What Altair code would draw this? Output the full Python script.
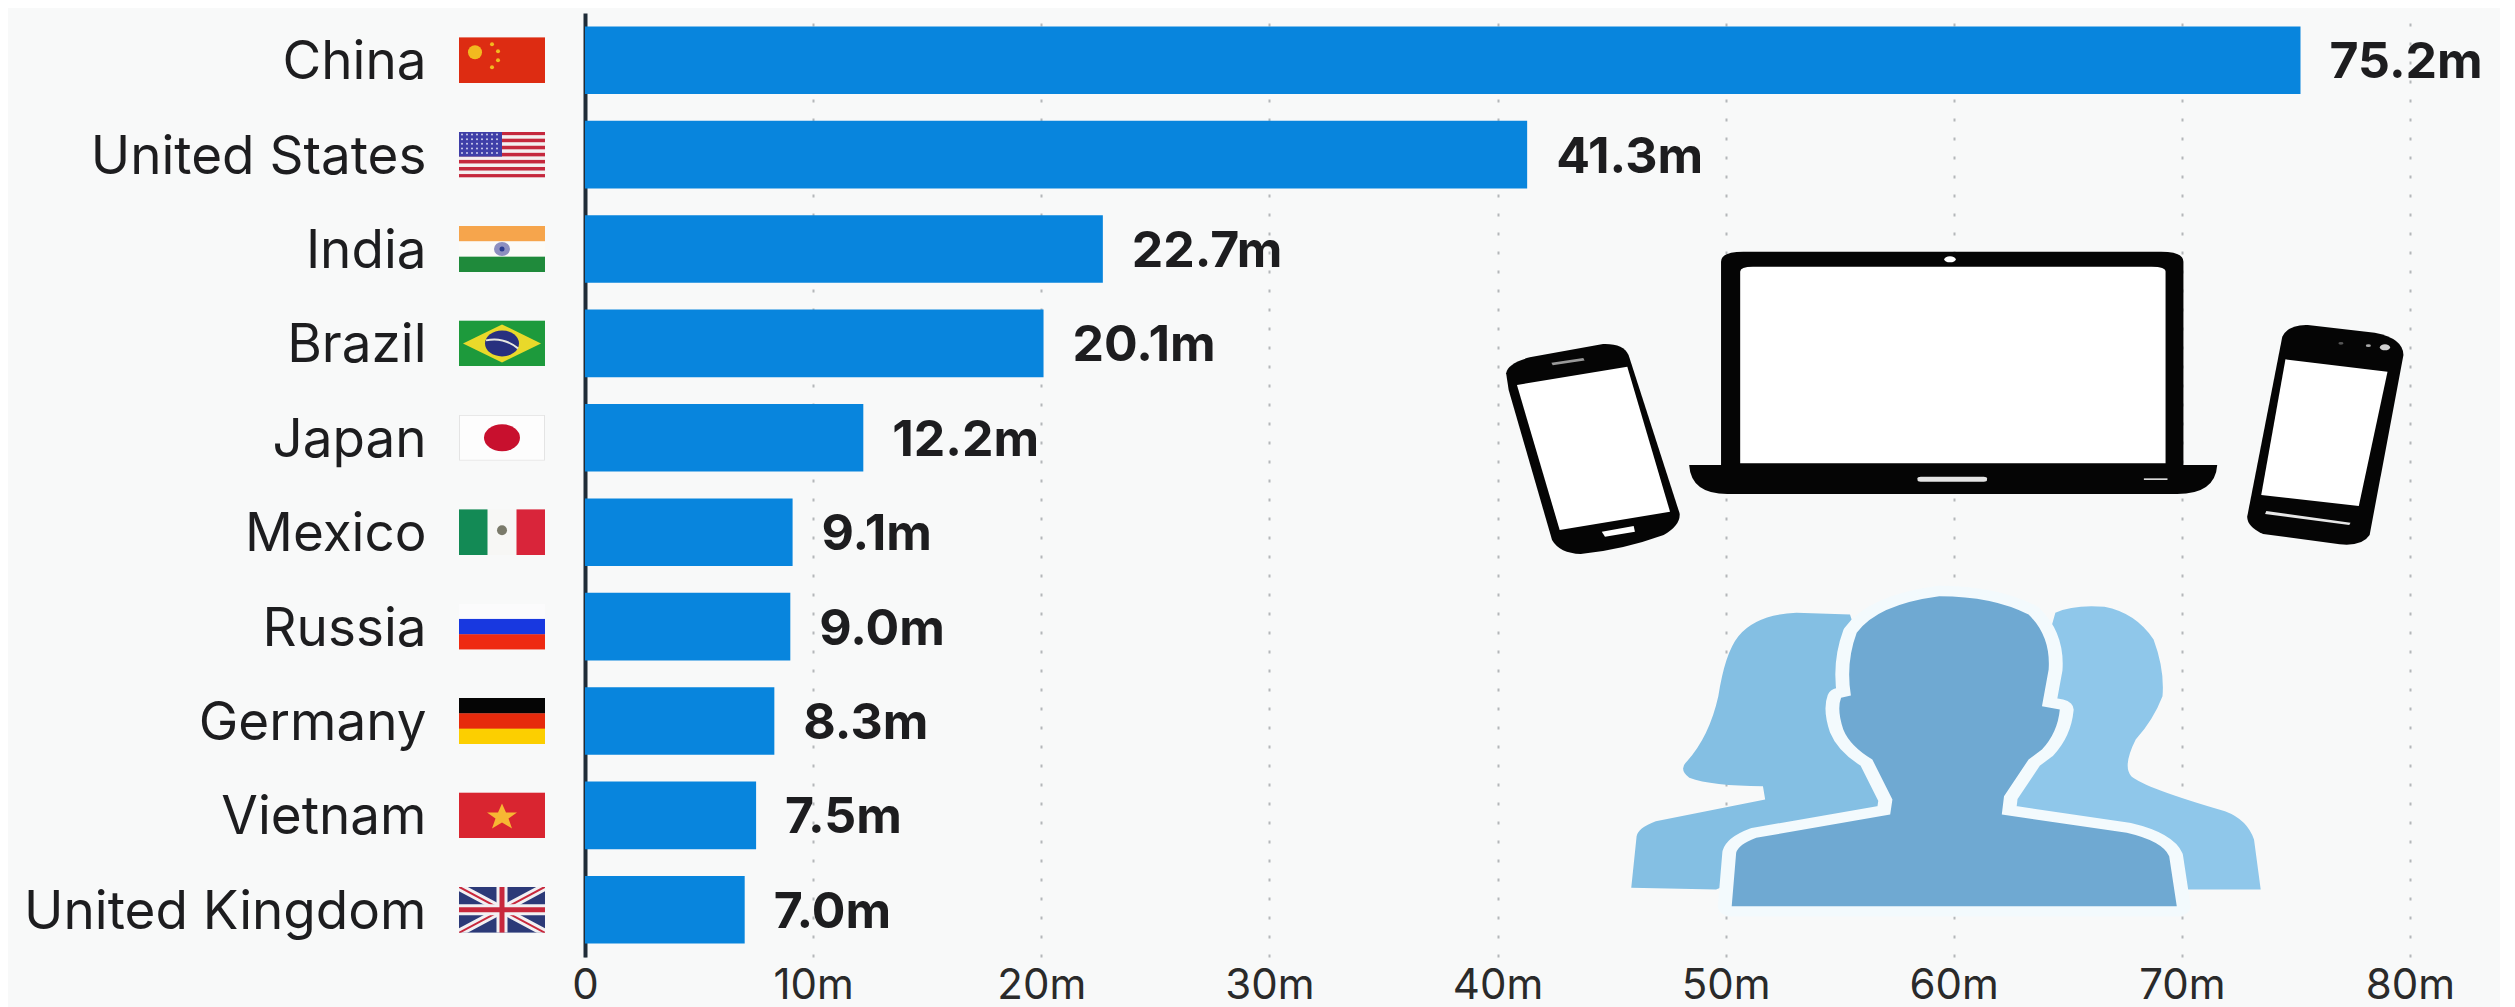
import base64
import altair as alt
import pandas as pd

countries = ["China", "United States", "India", "Brazil", "Japan", "Mexico", "Russia", "Germany", "Vietnam", "United Kingdom"]
users = [75.2, 41.3, 22.7, 20.1, 12.2, 9.1, 9.0, 8.3, 7.5, 7.0]
value_labels = ["75.2m", "41.3m", "22.7m", "20.1m", "12.2m", "9.1m", "9.0m", "8.3m", "7.5m", "7.0m"]
x_ticks = [0, 10, 20, 30, 40, 50, 60, 70, 80]

BG = "#f8f9f9"
BAR = "#0885dd"
INK = "#1d1d1f"
FONT = "Inter"


def uri(body, w, h):
    svg = (f'<svg xmlns="http://www.w3.org/2000/svg" width="{w}" height="{h}" '
           f'viewBox="0 0 {w} {h}" preserveAspectRatio="none">{body}</svg>')
    return "data:image/svg+xml;base64," + base64.b64encode(svg.encode()).decode()


def bands(*cols):
    n = len(cols)
    return "".join(f'<rect y="{i*46/n}" width="86" height="{46/n+.3}" fill="{c}"/>' for i, c in enumerate(cols))


us = '<rect width="86" height="46" fill="#f4f0f0"/>' + "".join(
    f'<rect y="{i*46/13}" width="86" height="{46/13}" fill="#c5283d"/>' for i in range(0, 13, 2)
) + '<rect width="43" height="25" fill="#3f3fa8"/>'
stars_us = "".join(f'<circle cx="{3+x*5}" cy="{3+y*4.6}" r="1" fill="#cfd0ee"/>' for x in range(8) for y in range(5))

flags = {
    "China": '<rect width="86" height="46" fill="#dd2c12"/><circle cx="16" cy="15" r="7" fill="#f2b91f"/>'
             '<circle cx="33" cy="7" r="2" fill="#f2b91f"/><circle cx="39" cy="14" r="2" fill="#f2b91f"/>'
             '<circle cx="39" cy="23" r="2" fill="#f2b91f"/><circle cx="33" cy="30" r="2" fill="#f2b91f"/>',
    "United States": us + stars_us,
    "India": bands("#f6a54c", "#fbfbf8", "#1f8a3b") + '<ellipse cx="43" cy="23" rx="8" ry="7" fill="#8d8fc0"/><circle cx="43" cy="23" r="2.5" fill="#2b3b8f"/>',
    "Brazil": '<rect width="86" height="46" fill="#1d9a3c"/><polygon points="43,4 82,23 43,42 4,23" fill="#e9d92a"/>'
              '<ellipse cx="43" cy="23" rx="17" ry="13" fill="#28307f"/><path d="M27 20 Q44 16 59 28" stroke="#e8e8e0" stroke-width="2" fill="none"/>',
    "Japan": '<rect x=".5" y=".5" width="85" height="45" fill="#fdfdfd" stroke="#e4e4e4"/><ellipse cx="43" cy="23" rx="18" ry="13.5" fill="#c8102e"/>',
    "Mexico": '<rect width="86" height="46" fill="#f7f7f5"/><rect width="28.5" height="46" fill="#138a55"/><rect x="57.5" width="28.5" height="46" fill="#d9253a"/><ellipse cx="43" cy="21" rx="5" ry="5" fill="#7a7a6a"/>',
    "Russia": bands("#fbfbfc", "#1838e0", "#ee2a12"),
    "Germany": bands("#050505", "#e62a0c", "#fccf00"),
    "Vietnam": '<rect width="86" height="46" fill="#d92530"/><polygon points="43,11 47,20 58,20 49.500,26 53,36 43,30 33,36 36.500,26 28,20 39,20" fill="#f7b733"/>',
    "United Kingdom": '<rect width="86" height="46" fill="#2c3a78"/>'
                      '<path d="M0 0L86 46M86 0L0 46" stroke="#f2f0f2" stroke-width="8"/>'
                      '<path d="M0 0L86 46M86 0L0 46" stroke="#c8283c" stroke-width="2"/>'
                      '<path d="M43 0V46M0 23H86" stroke="#f2f0f2" stroke-width="11"/>'
                      '<path d="M43 0V46M0 23H86" stroke="#c8283c" stroke-width="5"/>',
}

K = "#050505"
W = "#ffffff"
devices = (
    # laptop
    f'<path d="M425 95 Q425 65 460 65 L1115 65 Q1150 65 1150 95 L1150 705 L1203 705 Q1200 792 1140 792 L435 792 Q378 792 375 705 L425 705 Z" fill="{K}"/>'
    f'<path d="M455 125 Q455 110 475 110 L1100 110 Q1122 110 1122 125 L1122 700 L455 700 Z" fill="{W}"/>'
    f'<rect x="733" y="740" width="109" height="15" rx="5" fill="#e4e4e4"/><rect x="1088" y="745" width="37" height="5" fill="#d8d8d8"/>'
    f'<ellipse cx="784" cy="88" rx="9" ry="9" fill="{W}"/>'
    # left phone
    f'<path d="M88 430 Q90 400 125 382 L240 342 Q272 340 280 375 L360 850 Q362 885 335 915 Q270 960 205 972 Q172 970 160 930 L92 480 Z" fill="{K}"/>'
    f'<polygon points="105,465 278,410 345,845 172,900" fill="{W}"/>'
    f'<polygon points="238,905 288,888 290,905 243,920" fill="{W}"/>'
    f'<line x1="160" y1="402" x2="210" y2="388" stroke="#999" stroke-width="8"/>'
    # right phone
    f'<path d="M1305 320 Q1315 283 1345 285 L1450 308 Q1495 325 1495 375 L1442 915 Q1430 950 1395 943 L1275 912 Q1250 890 1250 860 Z" fill="{K}"/>'
    f'<polygon points="1310,388 1470,425 1425,828 1272,795" fill="{W}"/>'
    f'<polygon points="1280,843 1412,878 1410,885 1278,852" fill="#e8e8e8"/>'
    f'<ellipse cx="1466" cy="352" rx="8" ry="9" fill="#d0d0d0"/><circle cx="1440" cy="347" r="4" fill="#aaa"/><circle cx="1397" cy="340" r="4" fill="#555"/>'
)
device_uri = uri(devices, 1568, 1020)

OUT = "#f3fafd"
center = ("M295 1010 L305 850 Q310 825 350 805 L650 735 L655 690 L610 570 Q560 530 545 480 Q530 420 540 385 L562 378 "
          "Q550 280 575 190 Q620 105 760 80 Q880 80 960 135 Q1010 200 1005 300 L990 410 L1030 420 Q1025 490 990 540 L960 570 "
          "L905 680 L900 735 L1180 790 Q1260 815 1275 860 L1292 1010 Z")
people = (
    '<path d="M70 955 L82 800 Q85 775 125 755 L370 690 L365 650 Q250 650 200 625 Q175 600 195 575 Q245 500 265 380 '
    'Q280 250 310 200 Q350 135 440 130 L560 135 L700 720 L260 960 Z" fill="#84bfe3"/>'
    '<path d="M1020 130 Q1060 105 1130 112 Q1200 130 1240 210 Q1265 300 1260 380 Q1240 450 1200 510 Q1170 590 1190 620 '
    'Q1220 655 1400 725 Q1450 750 1465 810 L1480 960 L1000 960 L900 700 Z" fill="#8fc7ea"/>'
    f'<path d="{center}" fill="#6fa9d2" stroke="{OUT}" stroke-width="62" stroke-linejoin="round"/>'
    f'<path d="{center}" fill="#6fa9d2"/>'
)
people_uri = uri(people, 1568, 1311)

df = pd.DataFrame({
    "country": countries,
    "users": users,
    "label": value_labels,
    "flag": [uri(flags[c], 86, 46) for c in countries],
})

y_enc = alt.Y("country:N", sort=countries, title=None,
              scale=alt.Scale(paddingInner=0.284, paddingOuter=0.142),
              axis=alt.Axis(labelFont=FONT, labelFontSize=53, labelColor=INK, labelPadding=159, labelOffset=3,
                            ticks=False, domainColor="#1f2c38", domainWidth=4, labelLimit=500, grid=False))
x_enc = alt.X("users:Q", title=None,
              scale=alt.Scale(domain=[0, 80], nice=False, zero=True),
              axis=alt.Axis(values=x_ticks, labelExpr="datum.value == 0 ? '0' : datum.value + 'm'",
                            labelFont=FONT, labelFontSize=42, labelColor="#2a2a2a", labelPadding=8,
                            ticks=False, domain=False, grid=True, gridColor="#b4b7ba", gridWidth=2,
                            gridDash=[3, 16], labelOverlap=False, labelFlush=False))

bars = alt.Chart(df).mark_bar(color=BAR).encode(x=x_enc, y=y_enc)
texts = alt.Chart(df).mark_text(align="left", baseline="middle", dx=29, dy=3, font=FONT, fontWeight="bold",
                                fontSize=50, color=INK).encode(
    x=alt.X("users:Q"), y=alt.Y("country:N", sort=countries), text="label:N")
flag_marks = alt.Chart(df).mark_image(width=86, height=46, aspect=False).encode(
    x=alt.value(-83), y=alt.Y("country:N", sort=countries), url=alt.Url("flag:N"))
dev_marks = alt.Chart(pd.DataFrame({"icon": [device_uri]})).mark_image(width=1000, height=340, aspect=False).encode(
    x=alt.value(1365), y=alt.value(387), url=alt.Url("icon:N"))
people_marks = alt.Chart(pd.DataFrame({"icon": [people_uri]})).mark_image(width=700, height=437, aspect=False).encode(
    x=alt.value(1365), y=alt.value(775), url=alt.Url("icon:N"))

chart = alt.layer(dev_marks, people_marks, bars, texts, flag_marks).properties(
    width=1825, height=944,
    background=BG,
    padding={"left": 577, "top": 5, "right": 90, "bottom": 50},
    autosize=alt.AutoSizeParams(type="none"),
).configure_view(stroke=None)

chart.save("out.html", embed_options={"renderer": "svg", "actions": False})
